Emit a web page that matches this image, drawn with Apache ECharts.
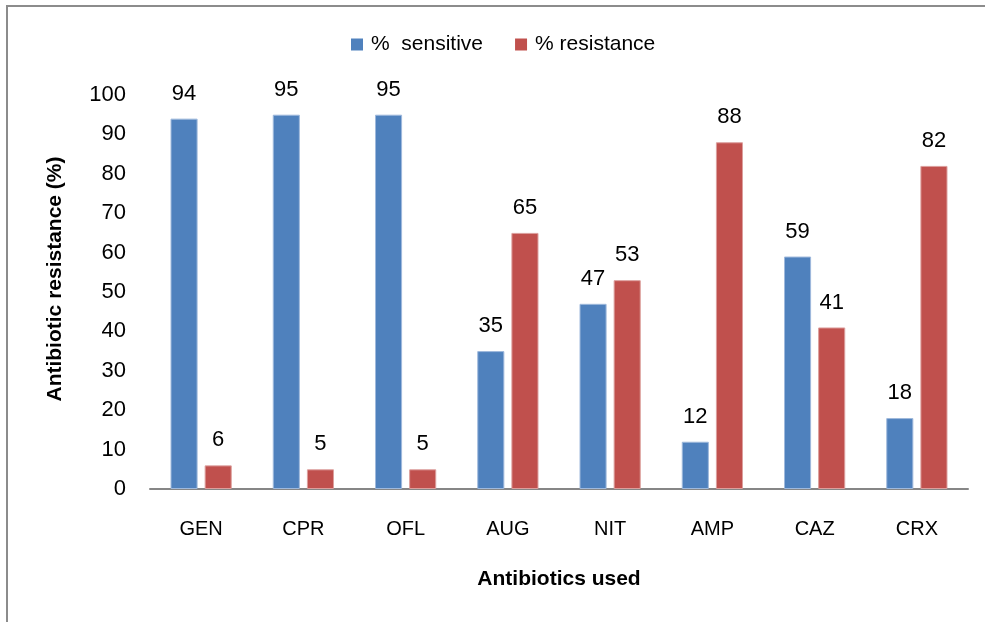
<!DOCTYPE html>
<html><head><meta charset="utf-8">
<script src="https://cdn.jsdelivr.net/npm/echarts@6/dist/echarts.min.js"></script>
<style>html,body{margin:0;padding:0;background:#fff}#c{width:985px;height:622px}</style>
</head><body><div id="c"></div>
<script>
const categories = ['GEN','CPR','OFL','AUG','NIT','AMP','CAZ','CRX'];
const sensitive = [94,95,95,35,47,12,59,18];
const resistance = [6,5,5,65,53,88,41,82];
const yTicks = [0,10,20,30,40,50,60,70,80,90,100];
const font = 'Liberation Sans, Arial, sans-serif';
const chart = echarts.init(document.getElementById('c'));
chart.setOption({
  animation:false,
  graphic:[{type:'rect',shape:{x:7,y:6,width:1000,height:700},style:{fill:'none',stroke:'#8c8c8c',lineWidth:2}}],
  legend:{top:34,left:351,padding:0,itemWidth:12,itemHeight:12,itemGap:32,icon:'rect',
    itemStyle:{borderWidth:0},
    textStyle:{fontFamily:font,fontSize:21,color:'#000',padding:[0,0,0,3]},
    data:['%  sensitive','% resistance']},
  grid:{left:150,right:17,top:95,bottom:133,containLabel:false},
  xAxis:{type:'category',data:categories,name:'Antibiotics used',nameLocation:'middle',nameGap:80,
    nameTextStyle:{fontFamily:font,fontSize:21,fontWeight:'bold',color:'#000'},
    axisLine:{lineStyle:{color:'#868686',width:2}},axisTick:{show:false},
    axisLabel:{fontFamily:font,fontSize:20,color:'#000',margin:30}},
  yAxis:{type:'value',min:0,max:100,interval:10,name:'Antibiotic resistance (%)',nameLocation:'middle',nameGap:84,
    nameTextStyle:{fontFamily:font,fontSize:21,fontWeight:'bold',color:'#000',padding:[0,0,0,26]},
    axisLine:{show:false},axisTick:{show:false},splitLine:{show:false},
    axisLabel:{fontFamily:font,fontSize:22,color:'#000',margin:24,
      formatter:v=>yTicks.includes(v)?String(v):''}},
  series:[
    {name:'%  sensitive',type:'bar',data:sensitive,barWidth:'26.5%',barGap:'26%',
      itemStyle:{color:'#4f81bd',borderColor:'#9fb9dc',borderWidth:1},
      label:{show:true,position:'top',distance:14,fontFamily:font,fontSize:22,color:'#000'}},
    {name:'% resistance',type:'bar',data:resistance,barWidth:'26.5%',
      itemStyle:{color:'#c0504d',borderColor:'#dc9f9d',borderWidth:1},
      label:{show:true,position:'top',distance:14,fontFamily:font,fontSize:22,color:'#000'}}
  ]
});
</script></body></html>
